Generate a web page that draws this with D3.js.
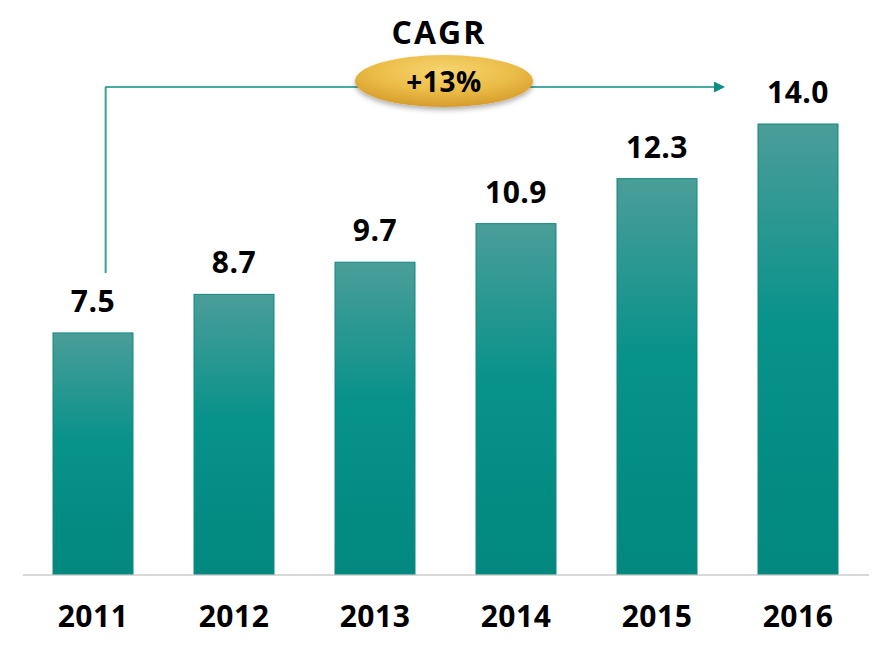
<!DOCTYPE html>
<html>
<head>
<meta charset="utf-8">
<script src="https://cdn.jsdelivr.net/npm/d3@7"></script>
<style>
  body { margin: 0; background: #fff; }
  svg text { font-family: "Open Sans", "Noto Sans", sans-serif; font-weight: 700; fill: #000; }
</style>
</head>
<body>
<svg id="chart" width="892" height="648"></svg>
<script>
const years = ["2011", "2012", "2013", "2014", "2015", "2016"];
const values = [7.5, 8.7, 9.7, 10.9, 12.3, 14.0];
const cagrTitle = "CAGR";
const cagrLabel = "+13%";

const svg = d3.select("#chart");
const baseY = 574;

const x = d3.scaleBand()
  .domain(years)
  .range([22.5, 868.5])
  .paddingInner(61 / 141)
  .paddingOuter(61 / 282);

const y = d3.scaleLinear().domain([0, 14]).range([baseY, 124]);

const defs = svg.append("defs");
const grad = defs.append("linearGradient")
  .attr("id", "barGrad")
  .attr("x1", 0).attr("y1", 0).attr("x2", 0).attr("y2", 1);
grad.append("stop").attr("offset", "0%").attr("stop-color", "#4b9d99");
grad.append("stop").attr("offset", "45%").attr("stop-color", "#07928a");
grad.append("stop").attr("offset", "100%").attr("stop-color", "#02887f");

const gold = defs.append("radialGradient")
  .attr("id", "goldGrad")
  .attr("cx", "50%").attr("cy", "30%").attr("r", "70%");
gold.append("stop").attr("offset", "0%").attr("stop-color", "#f6d470");
gold.append("stop").attr("offset", "55%").attr("stop-color", "#ebbd48");
gold.append("stop").attr("offset", "100%").attr("stop-color", "#d69c2a");

const shadow = defs.append("filter").attr("id", "shadow")
  .attr("x", "-20%").attr("y", "-30%").attr("width", "140%").attr("height", "170%");
shadow.append("feDropShadow")
  .attr("dx", 0).attr("dy", 3).attr("stdDeviation", 2.5)
  .attr("flood-color", "#000").attr("flood-opacity", 0.3);

defs.append("marker")
  .attr("id", "arrow")
  .attr("viewBox", "0 0 10 10")
  .attr("refX", 0).attr("refY", 5)
  .attr("markerWidth", 11).attr("markerHeight", 11)
  .attr("markerUnits", "userSpaceOnUse")
  .attr("orient", "auto")
  .append("path")
  .attr("d", "M0,0L10,5L0,10Z")
  .attr("fill", "#0e8f86");

// baseline
svg.append("line")
  .attr("x1", 23).attr("x2", 869)
  .attr("y1", baseY + 1).attr("y2", baseY + 1)
  .attr("stroke", "#d9d9d9").attr("stroke-width", 2);

// bars
svg.selectAll(".bar")
  .data(values)
  .join("rect")
  .attr("class", "bar")
  .attr("x", (d, i) => x(years[i]))
  .attr("y", d => y(d))
  .attr("width", x.bandwidth())
  .attr("height", d => baseY - y(d))
  .attr("fill", "url(#barGrad)")
  .attr("stroke", "#12887f")
  .attr("stroke-width", 1);

// value labels
svg.selectAll(".val")
  .data(values)
  .join("text")
  .attr("class", "val")
  .attr("x", (d, i) => x(years[i]) + x.bandwidth() / 2)
  .attr("y", d => y(d) - 21)
  .attr("text-anchor", "middle")
  .attr("font-size", 30)
  .attr("letter-spacing", 0.5)
  .text(d => d.toFixed(1));

// year labels
svg.selectAll(".year")
  .data(years)
  .join("text")
  .attr("class", "year")
  .attr("x", d => x(d) + x.bandwidth() / 2)
  .attr("y", 627)
  .attr("text-anchor", "middle")
  .attr("font-size", 30)
  .attr("letter-spacing", 0.5)
  .text(d => d);

// CAGR connector
const x0 = x(years[0]) + x.bandwidth() * 0.66;
const x1 = x(years[years.length - 1]) - 44;
const lineY = 87;
const lineBottom = y(values[0]) - 60;
svg.append("path")
  .attr("d", `M${x0},${lineBottom}V${lineY}H${x1}`)
  .attr("fill", "none")
  .attr("stroke", "#0e8f86")
  .attr("stroke-width", 1.5)
  .attr("marker-end", "url(#arrow)");

svg.append("line")
  .attr("x1", x0 - 1).attr("x2", x0 - 1)
  .attr("y1", lineY).attr("y2", lineBottom)
  .attr("stroke", "#8fd0c8").attr("stroke-width", 1);

const cx = 444, cy = 81;
svg.append("ellipse")
  .attr("cx", cx).attr("cy", cy)
  .attr("rx", 89).attr("ry", 26)
  .attr("fill", "url(#goldGrad)")
  .attr("filter", "url(#shadow)");

svg.append("text")
  .attr("x", cx).attr("y", 92)
  .attr("text-anchor", "middle")
  .attr("font-size", 28)
  .attr("letter-spacing", 0.5)
  .text(cagrLabel);

svg.append("text")
  .attr("x", 439).attr("y", 44)
  .attr("text-anchor", "middle")
  .attr("font-size", 32)
  .attr("letter-spacing", 2)
  .text(cagrTitle);
</script>
</body>
</html>
